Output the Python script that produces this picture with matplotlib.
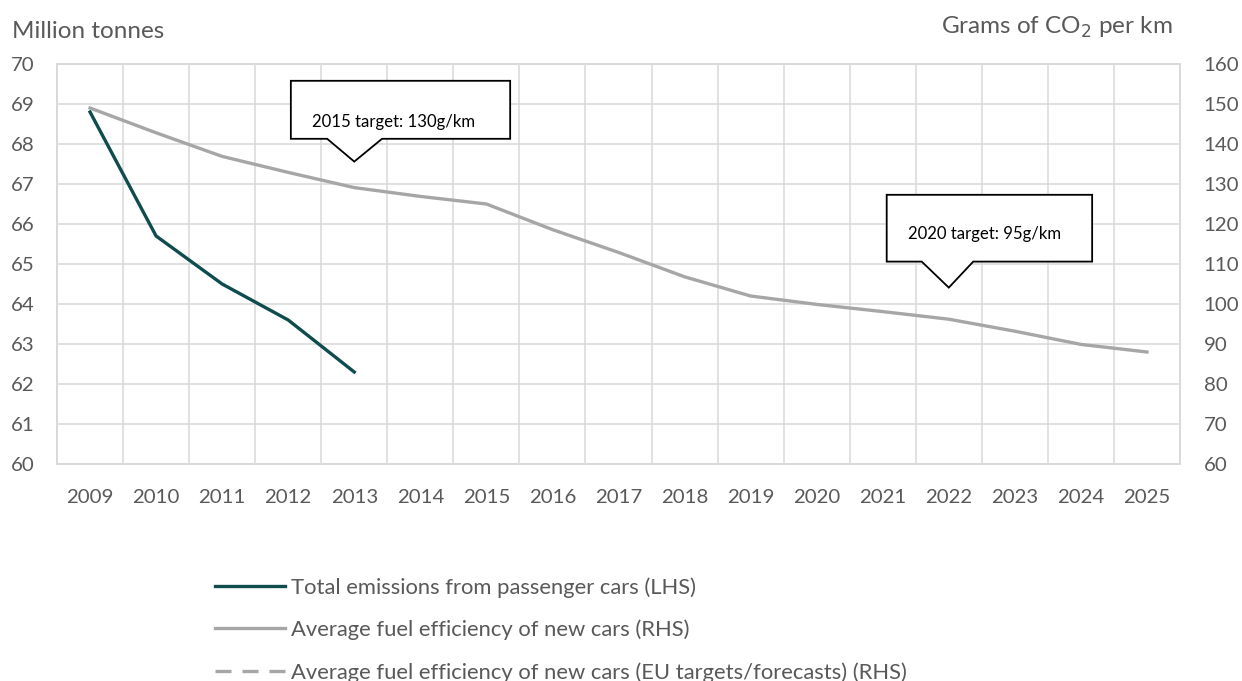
import matplotlib
matplotlib.use("Agg")
import matplotlib.pyplot as plt
from matplotlib.lines import Line2D
from matplotlib.patches import Polygon

plt.rcParams['font.family'] = ['Lato', 'DejaVu Sans']

years = [str(y) for y in range(2009, 2026)]
emissions_years = years[:5]
emissions = [68.8, 65.7, 64.5, 63.6, 62.3]          # million tonnes (LHS)
efficiency = [149.0, 142.8, 136.9, 132.9, 129.1, 126.9, 125.0, 118.6,
              112.9, 106.8, 102.0, 99.9, 98.1, 96.2, 93.2, 89.9, 88.0]  # g CO2/km (RHS)

legend_labels = ["Total emissions from passenger cars (LHS)",
                 "Average fuel efficiency of new cars (RHS)",
                 "Average fuel efficiency of new cars (EU targets/forecasts) (RHS)"]

# callouts: text, text anchor (x index, rhs value), box (x0, x1, y_bottom, y_top),
# pointer base (x0, x1) and pointer tip (x index, rhs value)
callouts = [
    ("2015 target: 130g/km", (3.36, 145.5), (3.04, 6.36, 141.3, 155.8), (3.59, 4.42), (4.0, 135.6)),
    ("2020 target: 95g/km", (12.38, 117.4), (12.06, 15.17, 110.6, 127.3), (12.59, 13.37), (13.0, 104.1)),
]

GREEN = "#0e4c4e"
GREY = "#a6a6a6"
GRID = "#d9d9d9"
TEXT = "#595959"

fig = plt.figure(figsize=(12.42, 6.81), dpi=100)
ax = fig.add_axes([57 / 1242, 1 - 464 / 681, (1180 - 57) / 1242, 400 / 681])
ax2 = ax.twinx()

x_all = list(range(len(years)))
x_em = [years.index(y) for y in emissions_years]

ax.plot(x_em, emissions, color=GREEN, lw=2.4, solid_joinstyle='round', zorder=3)
ax2.plot(x_all, efficiency, color=GREY, lw=2.4, solid_joinstyle='round', zorder=3)

ax.set_xlim(-0.5, len(years) - 0.5)
ax.set_ylim(60, 70)
ax2.set_ylim(60, 160)
ax.set_yticks(range(60, 71))
ax2.set_yticks(range(60, 161, 10))
ax.set_xticks(x_all)
ax.set_xticklabels(years)
ax.set_xticks([i - 0.5 for i in range(len(years) + 1)], minor=True)

ax.grid(axis='y', which='major', color=GRID, lw=1.1)
ax.grid(axis='x', which='minor', color=GRID, lw=1.1)
ax.set_axisbelow(True)

for a in (ax, ax2):
    for s in a.spines.values():
        s.set_color(GRID)
        s.set_linewidth(1.1)
    a.tick_params(which='both', length=0, labelsize=14.7, labelcolor=TEXT)
ax.tick_params(axis='x', pad=18)
ax.tick_params(axis='y', pad=16)
ax2.tick_params(axis='y', pad=17)

fig.text(12 / 1242, 1 - 32 / 681, "Million tonnes", fontsize=17.5, color=TEXT,
         ha='left', va='center')
fig.text(1172 / 1242, 1 - 27 / 681, "Grams of CO$_2$ per km", fontsize=17.5, color=TEXT,
         ha='right', va='center')

for text, (tx, ty), (bx0, bx1, by0, by1), (px0, px1), (tipx, tipy) in callouts:
    pts = [(bx0, by1), (bx1, by1), (bx1, by0), (px1, by0), (tipx, tipy),
           (px0, by0), (bx0, by0)]
    ax2.add_patch(Polygon(pts, closed=True, facecolor='white', edgecolor='black',
                          lw=1.3, zorder=5, clip_on=False))
    ax2.text(tx, ty, text, fontsize=12.1, color='black', ha='left', va='center', zorder=6)

handles = [Line2D([], [], color=GREEN, lw=2.4),
           Line2D([], [], color=GREY, lw=2.4),
           Line2D([], [], color=GREY, lw=2.4, ls=(0, (4.8, 3.3)))]
fig.legend(handles, legend_labels, loc='upper left',
           bbox_to_anchor=(215 / 1242, 1 - 577 / 681), frameon=False,
           fontsize=15.8, labelcolor=TEXT, handlelength=3.2, handletextpad=0.25,
           labelspacing=1.0, borderpad=0, borderaxespad=0)

fig.savefig("out.png", dpi=100)
